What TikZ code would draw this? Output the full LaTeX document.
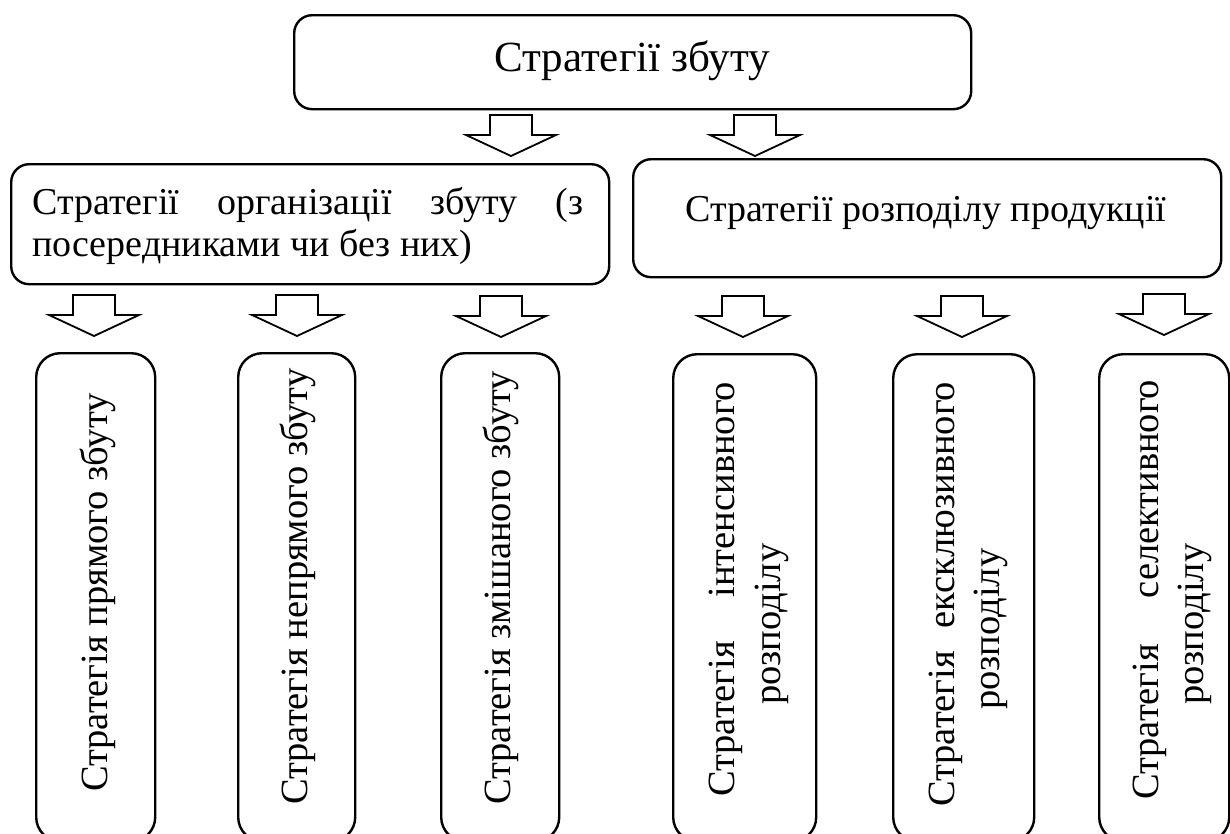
\documentclass[tikz,border=0pt]{standalone}
\usepackage{fontspec}
\setmainfont{Liberation Serif}
\begin{document}
\begin{tikzpicture}[x=1pt,y=-1pt,
  box/.style={draw, line width=2.4pt, rounded corners=18pt, anchor=north west, inner sep=0pt},
  vbox/.style={draw, line width=2.4pt, rounded corners=24pt, anchor=north west, inner sep=0pt},
  lbl/.style={font=\fontsize{38}{43}\selectfont, inner sep=0pt},
  biglbl/.style={font=\fontsize{43}{49}\selectfont, inner sep=0pt},
  vlbl/.style={font=\fontsize{38.5}{43}\selectfont, inner sep=0pt, rotate=90, anchor=west},
  barrowline/.style={draw, line width=1.8pt, line join=miter},
  barrow/.pic={\path[barrowline] (-21,0) -- (21,0) -- (21,20) -- (45,20) -- (0,41) -- (-45,20) -- (-21,20) -- cycle;}
]
\useasboundingbox (0,0) rectangle (1230,833);
\clip (0,0) rectangle (1230,833);
\fill[white] (0,0) rectangle (1230,833);

% top
\node[box, minimum width=677pt, minimum height=94pt] (top) at (293,14) {};
\node[biglbl, anchor=base west] (toptxt) at (494,71) {Стратегії збуту};

\pic at (511,115) {barrow};
\pic at (755,115) {barrow};

% second row
\node[box, minimum width=598pt, minimum height=120pt] (org) at (10,163) {};
\node[lbl, anchor=base west] (orgl1) at (32,214) {\makebox[551pt][s]{Стратегії\hfill організації\hfill збуту\hfill (з}};
\node[lbl, anchor=base west] (orgl2) at (32,256) {посередниками чи без них)};

\node[box, minimum width=588pt, minimum height=118pt] (dist) at (632,158) {};
\node[lbl] (disttxt) at (926,213) {Стратегії розподілу продукції};

% arrows row 3
\pic at (94,295) {barrow};
\pic at (297,295) {barrow};
\pic at (501,296) {barrow};
\pic at (743,296) {barrow};
\pic at (962,296) {barrow};
\pic at (1164,294) {barrow};

% bottom boxes
\node[vbox, minimum width=119pt, minimum height=488pt] (b1) at (35,352) {};
\node[vbox, minimum width=117pt, minimum height=488pt] (b2) at (237,352) {};
\node[vbox, minimum width=118pt, minimum height=488pt] (b3) at (440,352) {};
\node[vbox, minimum width=143pt, minimum height=487pt] (b4) at (672,353) {};
\node[vbox, minimum width=141pt, minimum height=487pt] (b5) at (892,353) {};
\node[vbox, minimum width=130pt, minimum height=487pt] (b6) at (1098,353) {};

\node[vlbl] (t1) at (98,792) {Стратегія прямого збуту};
\node[vlbl] (t2) at (298,805) {Стратегія непрямого збуту};
\node[vlbl] (t3) at (501,805) {Стратегія змішаного збуту};
\node[vlbl] (t4a) at (726,797) {\makebox[415pt][s]{Стратегія\hfill інтенсивного}};
\node[vlbl] (t4b) at (772,705) {розподілу};
\node[vlbl] (t5a) at (946,807) {\makebox[425pt][s]{Стратегія\hfill ексклюзивного}};
\node[vlbl] (t5b) at (991,710) {розподілу};
\node[vlbl] (t6a) at (1150,800) {\makebox[420pt][s]{Стратегія\hfill селективного}};
\node[vlbl] (t6b) at (1195,705) {розподілу};
\end{tikzpicture}
\end{document}
